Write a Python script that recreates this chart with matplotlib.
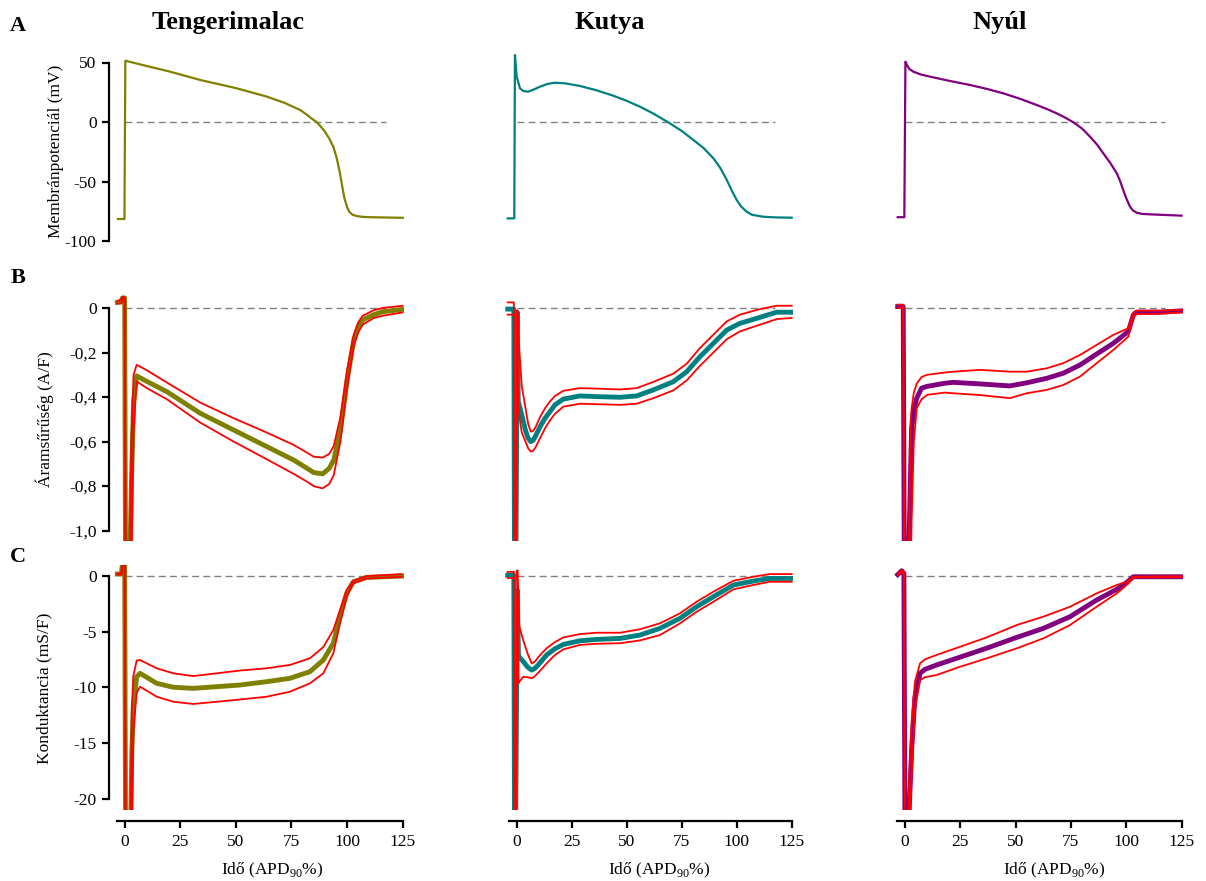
import matplotlib.pyplot as plt

plt.rcParams['font.family'] = 'Liberation Serif'
plt.rcParams['mathtext.fontset'] = 'custom'
plt.rcParams['mathtext.rm'] = 'Liberation Serif'

species = ['Tengerimalac', 'Kutya', 'Nyúl']
colors = ['#808000', '#008080', '#800080']

# --- A: action potentials (mV) ---
ap_gp_t = [-3, -0.1, 0.3, 10, 20, 34, 50, 64, 72, 79, 82, 84, 86.3, 88, 90, 92, 93.8, 95.3, 96.8, 97.8, 98.8, 100, 101, 102.5, 104.3, 107, 110, 125]
ap_gp_v = [-81.5, -81.5, 51.5, 47, 42.5, 35.3, 28.5, 21.3, 16, 10, 6, 3, 0, -3.5, -8, -14, -20.7, -30, -43, -54, -64, -71.5, -75.5, -78, -79, -79.7, -80, -80.5]
ap_dog_t = [-4.1, -1.1, -0.8, 0, 1.5, 3, 5.3, 8, 10.6, 14, 17.4, 22, 28.7, 36, 43.9, 50, 56, 62, 68.9, 75, 80.3, 85, 89.4, 92.5, 95.5, 98, 100, 102, 104.5, 107, 112, 118, 125]
ap_dog_v = [-81, -81, 56.3, 38, 28.3, 26, 25.5, 27.5, 29.7, 32, 33, 32.5, 30.3, 26.8, 22.1, 17.8, 12.9, 7.2, -0.3, -7.5, -15.1, -22, -30.5, -38.5, -48.7, -58.5, -65.5, -71, -75.4, -78, -79.6, -80.2, -80.4]
ap_rab_t = [-3.3, -0.3, 0.2, 1, 2, 3.8, 7, 11.3, 20, 29.4, 37, 44.4, 52, 59.5, 64, 68.5, 72.5, 76.1, 80, 83.6, 86.8, 89.6, 92.8, 95.7, 97.3, 98.6, 100.2, 101.7, 103, 104.7, 107, 110.7, 125]
ap_rab_v = [-80, -80, 50.7, 47.5, 44.5, 42.3, 40, 38.1, 34.6, 31.1, 27.8, 24.1, 19.5, 14.3, 11, 7.3, 3.6, -0.3, -5.5, -12.3, -19, -26.3, -34.5, -43.1, -50, -57.1, -65, -71.2, -74.3, -76.2, -77.2, -77.6, -78.7]

# --- B: current density (A/F), mean and SEM bounds ---
cur_gp_t = [-3.3, -1.5, -1.0, 0.0, 0.4, 2.2, 3.0, 4.0, 5.4, 10, 19, 34, 49, 64, 76, 82, 85, 89, 92, 94, 97, 100, 103, 105, 107, 112, 116, 125]
cur_gp_m = [0.025, 0.028, 0.045, 0.045, -1.2, -1.2, -0.8, -0.42, -0.305, -0.33, -0.376, -0.473, -0.548, -0.623, -0.683, -0.72, -0.739, -0.745, -0.72, -0.683, -0.548, -0.323, -0.144, -0.085, -0.054, -0.03, -0.017, -0.006]
cur_gp_hi = [0.03, 0.04, 0.05, 0.05, -1.2, -1.2, -0.6, -0.3, -0.255, -0.28, -0.335, -0.425, -0.495, -0.56, -0.615, -0.65, -0.668, -0.672, -0.655, -0.62, -0.49, -0.28, -0.12, -0.065, -0.035, -0.01, 0.0, 0.01]
cur_gp_lo = [0.02, 0.02, 0.04, 0.04, -1.2, -1.2, -1.2, -0.55, -0.33, -0.36, -0.41, -0.515, -0.6, -0.68, -0.745, -0.78, -0.8, -0.81, -0.79, -0.75, -0.6, -0.36, -0.17, -0.11, -0.075, -0.045, -0.035, -0.02]

cur_dog_t = [-4.1, -1.3, -1.0, -0.4, 0.3, 0.7, 2.3, 4.0, 5.2, 6.4, 7.4, 8.6, 10.6, 12.9, 15.1, 17.4, 21.2, 28.8, 36.4, 47.0, 54.5, 62.1, 71.2, 77.3, 83.3, 89.4, 95.5, 101.5, 110.6, 118.2, 125]
cur_dog_m = [-0.005, -0.005, -1.2, -1.2, -0.02, -0.42, -0.48, -0.55, -0.585, -0.6, -0.595, -0.575, -0.533, -0.495, -0.466, -0.435, -0.409, -0.395, -0.398, -0.401, -0.395, -0.368, -0.331, -0.286, -0.219, -0.159, -0.099, -0.069, -0.042, -0.019, -0.019]
cur_dog_hi = [0.025, 0.025, -1.2, -1.2, -0.01, -0.12, -0.35, -0.45, -0.52, -0.555, -0.553, -0.535, -0.49, -0.45, -0.42, -0.395, -0.372, -0.36, -0.362, -0.366, -0.36, -0.332, -0.295, -0.25, -0.18, -0.12, -0.06, -0.03, -0.005, 0.01, 0.01]
cur_dog_lo = [-0.03, -0.03, -1.2, -1.2, -0.03, -0.45, -0.56, -0.6, -0.63, -0.645, -0.642, -0.625, -0.585, -0.54, -0.505, -0.475, -0.443, -0.43, -0.432, -0.435, -0.43, -0.405, -0.37, -0.325, -0.26, -0.2, -0.14, -0.105, -0.075, -0.05, -0.045]

cur_rab_t = [-3.3, -0.8, -0.3, 1.5, 2.6, 3.0, 4.0, 5.3, 7.5, 10, 18, 21.8, 33.9, 47.4, 55.0, 64.0, 71.5, 79.1, 86.6, 94.1, 100.9, 103.2, 104.7, 115.2, 125]
cur_rab_m = [0.006, 0.006, -1.2, -1.2, -0.7, -0.54, -0.46, -0.405, -0.36, -0.352, -0.338, -0.334, -0.341, -0.35, -0.336, -0.316, -0.293, -0.256, -0.207, -0.159, -0.106, -0.031, -0.019, -0.019, -0.013]
cur_rab_hi = [0.015, 0.015, -1.2, -1.2, -0.5, -0.45, -0.38, -0.34, -0.31, -0.3, -0.29, -0.286, -0.278, -0.286, -0.286, -0.271, -0.248, -0.211, -0.166, -0.121, -0.091, -0.02, -0.012, -0.012, -0.008]
cur_rab_lo = [0.0, 0.0, -1.2, -1.2, -1.2, -0.95, -0.6, -0.45, -0.41, -0.39, -0.38, -0.383, -0.391, -0.405, -0.383, -0.368, -0.346, -0.308, -0.248, -0.189, -0.129, -0.04, -0.028, -0.026, -0.02]

# --- C: conductance (mS/F) ---
g_gp_t = [-3.3, -1.5, -0.8, 0.0, 0.4, 2.6, 3.2, 3.9, 5.4, 6.9, 14.4, 21.9, 30.8, 41.4, 51.8, 63.8, 74.3, 83.3, 89.3, 93.8, 96.8, 99.8, 102.8, 108.8, 124.5]
g_gp_m = [0.15, 0.15, 1.5, 1.5, -23, -23, -16, -11.75, -9.06, -8.75, -9.65, -10.0, -10.1, -9.95, -9.8, -9.5, -9.2, -8.6, -7.56, -6.06, -3.67, -1.58, -0.54, -0.15, -0.03]
g_gp_hi = [0.2, 0.2, 1.5, 1.5, -23, -23, -12, -9.0, -7.6, -7.56, -8.3, -8.75, -9.0, -8.75, -8.5, -8.3, -8.0, -7.4, -6.4, -4.87, -3.08, -1.28, -0.45, -0.03, 0.15]
g_gp_lo = [0.1, 0.1, 1.5, 1.5, -23, -23, -23, -14, -10.5, -9.95, -10.85, -11.3, -11.5, -11.3, -11.1, -10.85, -10.4, -9.65, -8.75, -6.96, -4.27, -1.88, -0.68, -0.25, -0.1]

g_dog_t = [-4.1, -1.3, -1.0, -0.5, 0.3, 0.8, 1.2, 3.0, 5.0, 6.8, 8.3, 9.8, 13.6, 17.4, 21.2, 28.8, 36.4, 47.0, 56.0, 65.1, 74.2, 81.8, 89.4, 98.5, 107.5, 115.1, 125]
g_dog_m = [0.05, 0.05, -23, -23, -1.3, -7.2, -7.3, -7.7, -8.2, -8.46, -8.3, -8.0, -7.1, -6.55, -6.16, -5.83, -5.71, -5.62, -5.32, -4.72, -3.82, -2.78, -1.88, -0.83, -0.48, -0.24, -0.24]
g_dog_hi = [0.35, 0.35, -23, -23, 0.5, -2.5, -4.57, -5.8, -7.0, -7.86, -7.7, -7.3, -6.5, -5.95, -5.53, -5.23, -5.11, -5.11, -4.8, -4.27, -3.37, -2.33, -1.43, -0.45, -0.09, 0.15, 0.15]
g_dog_lo = [-0.2, -0.2, -23, -23, -2.0, -9.65, -9.5, -9.06, -9.1, -9.2, -9.0, -8.7, -7.86, -7.1, -6.6, -6.2, -6.1, -6.05, -5.8, -5.32, -4.27, -3.23, -2.33, -1.22, -0.83, -0.54, -0.54]

g_rab_t = [-3.3, -1.5, -0.5, 0.0, 1.5, 1.9, 3.0, 4.5, 6.8, 9.0, 14.3, 24.9, 36.9, 50.5, 62.5, 74.6, 86.6, 95.7, 100.2, 103.2, 125]
g_rab_m = [0.1, 0.45, 0.2, -23, -23, -21, -15.6, -10.85, -8.75, -8.4, -8.0, -7.3, -6.5, -5.53, -4.72, -3.67, -2.18, -1.22, -0.6, -0.09, -0.09]
g_rab_hi = [0.15, 0.5, 0.3, -23, -23, -18, -13, -9.5, -7.86, -7.5, -7.1, -6.37, -5.53, -4.42, -3.67, -2.78, -1.58, -0.83, -0.54, -0.09, -0.05]
g_rab_lo = [0.05, 0.4, 0.1, -23, -23, -23, -18, -12, -9.35, -9.1, -8.9, -8.16, -7.41, -6.51, -5.62, -4.42, -2.78, -1.58, -0.83, -0.15, -0.12]

ap_data = [(ap_gp_t, ap_gp_v), (ap_dog_t, ap_dog_v), (ap_rab_t, ap_rab_v)]
cur_data = [(cur_gp_t, cur_gp_m, cur_gp_hi, cur_gp_lo),
            (cur_dog_t, cur_dog_m, cur_dog_hi, cur_dog_lo),
            (cur_rab_t, cur_rab_m, cur_rab_hi, cur_rab_lo)]
g_data = [(g_gp_t, g_gp_m, g_gp_hi, g_gp_lo),
          (g_dog_t, g_dog_m, g_dog_hi, g_dog_lo),
          (g_rab_t, g_rab_m, g_rab_hi, g_rab_lo)]

row_ylabels = ['Membránpotenciál (mV)', 'Áramsűrűség (A/F)', 'Konduktancia (mS/F)']
row_ticks = [[-100, -50, 0, 50], [-1.0, -0.8, -0.6, -0.4, -0.2, 0], [-20, -15, -10, -5, 0]]
row_ticklabels = [['-100', '-50', '0', '50'],
                  ['-1,0', '-0,8', '-0,6', '-0,4', '-0,2', '0'],
                  ['-20', '-15', '-10', '-5', '0']]
row_ylim = [(-100, 60), (-1.045, 0.06), (-21, 1.0)]
row_bounds = [(-100, 50), (-1.0, 0), (-20, 0)]
x_ticks = [0, 25, 50, 75, 100, 125]

W, H = 1206, 881
fig = plt.figure(figsize=(W / 100, H / 100), dpi=100)

# axes boxes in pixels
col_px = [(109.1, 403.8), (501.3, 792.8), (889.5, 1182.7)]
row_px = [(50.6, 241), (294.6, 540.7), (564.6, 809.9)]


def add_ax(c, r):
    l, rr = col_px[c]
    t, b = row_px[r]
    return fig.add_axes([l / W, 1 - b / H, (rr - l) / W, (b - t) / H])


for r in range(3):
    for c in range(3):
        ax = add_ax(c, r)
        ax.hlines(0, 0, 117.5, colors='#808080', linestyles=(0, (5, 3)), linewidth=1.0, zorder=1)
        if r == 0:
            t, v = ap_data[c]
            ax.plot(t, v, color=colors[c], lw=1.6, zorder=2)
        else:
            t, m, hi, lo = (cur_data if r == 1 else g_data)[c]
            ax.plot(t, m, color=colors[c], lw=3.5, zorder=2)
            ax.plot(t, hi, color='red', lw=1.3, zorder=3)
            ax.plot(t, lo, color='red', lw=1.3, zorder=3)

        ax.set_xlim(-7, 125.5)
        ax.set_ylim(*row_ylim[r])
        for s in ['top', 'right']:
            ax.spines[s].set_visible(False)

        if c == 0:
            ax.spines['left'].set_linewidth(1.6)
            ax.spines['left'].set_bounds(*row_bounds[r])
            ax.set_yticks(row_ticks[r])
            ax.set_yticklabels(row_ticklabels[r])
            ax.tick_params(axis='y', length=5, width=1.6, labelsize=12.5, pad=4)
        else:
            ax.spines['left'].set_visible(False)
            ax.set_yticks([])

        if r == 2:
            ax.spines['bottom'].set_position(('outward', 8))
            ax.spines['bottom'].set_linewidth(1.6)
            ax.spines['bottom'].set_bounds(-3.5, 125)
            ax.set_xticks(x_ticks)
            ax.set_xticklabels([str(v) for v in x_ticks])
            ax.tick_params(axis='x', length=5, width=1.6, labelsize=12.5, pad=4)
        else:
            ax.spines['bottom'].set_visible(False)
            ax.set_xticks([])

# y labels
ylab_x = [56, 45, 44]
for r in range(3):
    yc = [151, 419, 688][r]
    fig.text(ylab_x[r] / W, 1 - yc / H, row_ylabels[r], rotation=90,
             ha='center', va='center', fontsize=12.5)

# x labels
for c, xc in enumerate([272, 659, 1054]):
    fig.text(xc / W, 1 - 870 / H, 'Idő (APD$_{\\mathrm{90}}$%)', ha='center', va='center', fontsize=12.5)

# column titles
for c, xc in enumerate([228, 610, 1000]):
    fig.text(xc / W, 1 - 22 / H, species[c], ha='center', va='center', fontsize=19, fontweight='bold')

# panel letters
for letter, yc in zip(['A', 'B', 'C'], [26, 278, 557]):
    fig.text(18 / W, 1 - yc / H, letter, ha='center', va='center', fontsize=16, fontweight='bold')

fig.savefig('out.png', dpi=100)
